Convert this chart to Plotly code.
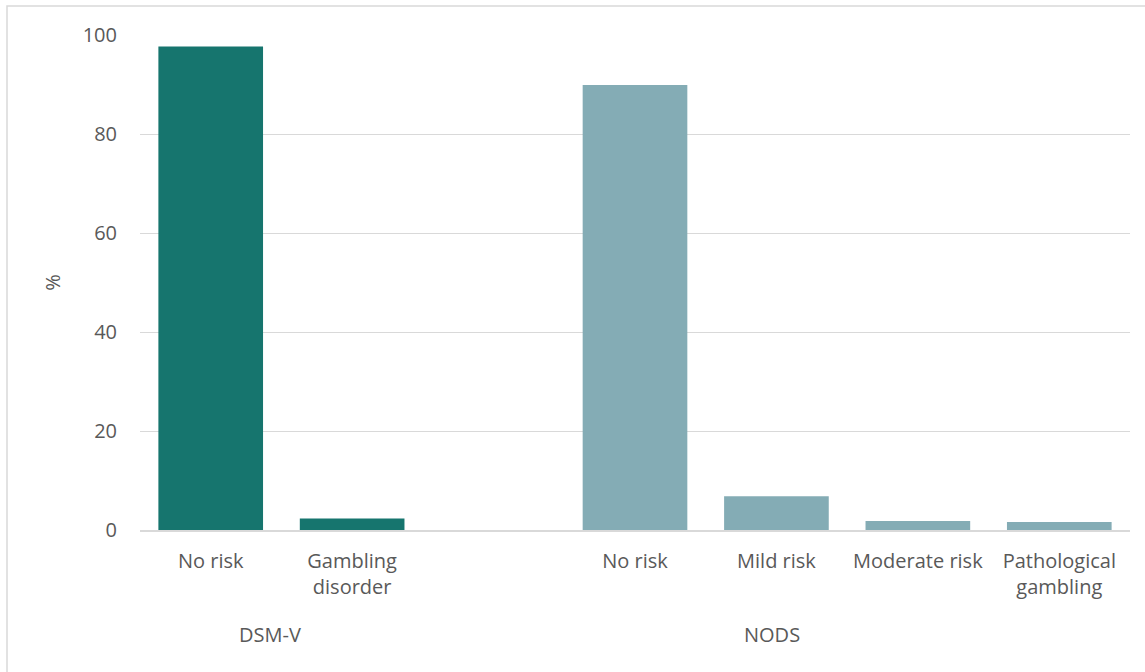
import plotly.graph_objects as go

categories = ["No risk", "Gambling<br>disorder", "", "No risk", "Mild risk", "Moderate risk", "Pathological<br>gambling"]
dsm_values = [97.7, 2.3]
nods_values = [89.9, 6.8, 1.8, 1.6]
groups = ["DSM-V", "NODS"]
y_ticks = [0, 20, 40, 60, 80, 100]

dsm_x = [0, 1]
nods_x = [3, 4, 5, 6]

font_family = "Open Sans, Liberation Sans, sans-serif"
text_color = "#595959"
fs = 20

fig = go.Figure()
fig.add_trace(go.Bar(x=dsm_x, y=dsm_values, marker_color="#16756E", marker_line_width=0))
fig.add_trace(go.Bar(x=nods_x, y=nods_values, marker_color="#84ACB5", marker_line_width=0))

fig.update_layout(
    width=1145, height=672,
    margin=dict(l=140, r=15, t=35, b=142),
    paper_bgcolor="white", plot_bgcolor="white",
    showlegend=False,
    bargap=0.26, barmode="overlay",
    font=dict(family=font_family, size=fs, color=text_color),
    xaxis=dict(
        range=[-0.5, 6.5], tickmode="array", tickvals=list(range(7)), ticktext=categories,
        showgrid=False, showline=True, linecolor="#D9D9D9", linewidth=1.5,
        ticks="", ticklabelstandoff=12, zeroline=False,
    ),
    yaxis=dict(
        range=[0, 100], tickmode="array", tickvals=y_ticks,
        showgrid=True, gridcolor="#D9D9D9", gridwidth=1.2,
        zeroline=False, showline=False, ticks="", ticklabelstandoff=22,
        title=dict(text="%", standoff=16, font=dict(size=fs, color=text_color)),
    ),
    shapes=[dict(type="rect", xref="paper", yref="paper", x0=-133/990, x1=1 + 40/990,
                 y0=-180/495, y1=1 + 29/495, line=dict(color="#D9D9D9", width=1.5))],
)

group_centers = [0.42, 3.97]
for g, cx in zip(groups, group_centers):
    fig.add_annotation(x=cx, y=0, xref="x", yref="y", yshift=-104, text=g,
                       showarrow=False, font=dict(size=fs, color=text_color))

fig.write_html("out.html")
